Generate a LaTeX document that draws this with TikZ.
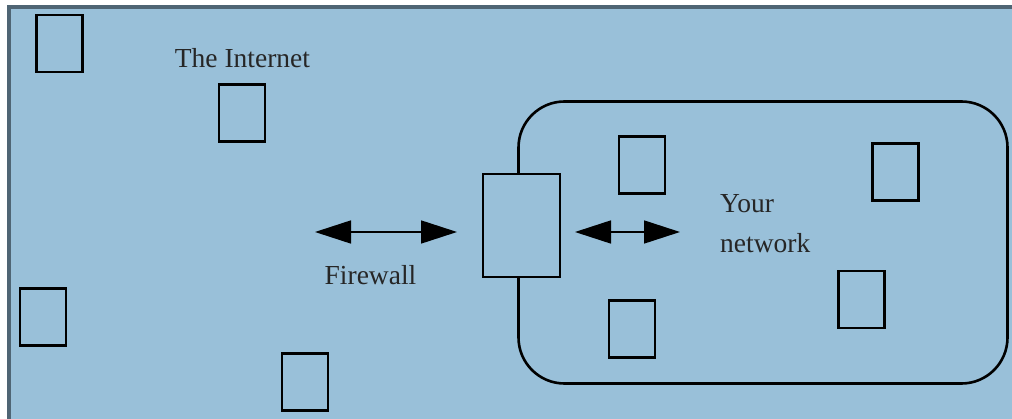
\documentclass[tikz,border=0pt]{standalone}
\usepackage{fontspec}
\setmainfont{Liberation Serif}
\usetikzlibrary{arrows.meta}
\definecolor{panel}{HTML}{99C0D9}
\definecolor{frame}{HTML}{4F6574}
\begin{document}
\begin{tikzpicture}[x=1pt,y=-1pt,
  host/.style={draw=black,line width=2.8pt,fill=panel,minimum width=46pt,minimum height=57pt,inner sep=0pt},
  label/.style={font=\fontsize{27.5}{32}\selectfont,text=black!85,inner sep=0pt},
  link/.style={line width=1.6pt,{Triangle[length=36pt,width=23pt]}-{Triangle[length=36pt,width=23pt]}}]
\useasboundingbox (0,0) rectangle (1012,419);
% page and panel
\fill[white] (0,0) rectangle (1012,419);
\fill[panel] (9,7) rectangle (1012,419);
\draw[frame,line width=4pt] (8.5,419) -- (8.5,7) -- (1012,7);

% private network outline
\node[draw=black,line width=2.6pt,rounded corners=46pt,minimum width=489pt,minimum height=282pt,inner sep=0pt] (net) at (763,242.5) {};

% hosts on the Internet
\node[host] (h1) at (59.5,43.5) {};
\node[host] (h2) at (242,113) {};
\node[host] (h3) at (43,317) {};
\node[host] (h4) at (305,382) {};
% hosts inside the network
\node[host] (h5) at (642,165) {};
\node[host] (h6) at (895.5,172) {};
\node[host] (h7) at (861.5,299.5) {};
\node[host] (h8) at (632,329) {};

% firewall sitting on the network boundary
\node[draw=black,line width=2.2pt,fill=panel,minimum width=77pt,minimum height=103pt,inner sep=0pt] (fw) at (521.5,225.5) {};

% traffic arrows
\coordinate (a1) at (315,232);
\coordinate (a2) at (457,232);
\coordinate (b1) at (575,232);
\coordinate (b2) at (680,232);
\draw[link] (a1) -- (a2);
\draw[link] (b1) -- (b2);

% labels
\node[label,anchor=base] (tinet) at (242.5,68) {The Internet};
\node[label,anchor=base] (tfw) at (370.5,285) {Firewall};
\node[label,anchor=base west] (tyour) at (720,213) {Your};
\node[label,anchor=base west] (tnet) at (720,253) {network};
\end{tikzpicture}
\end{document}
